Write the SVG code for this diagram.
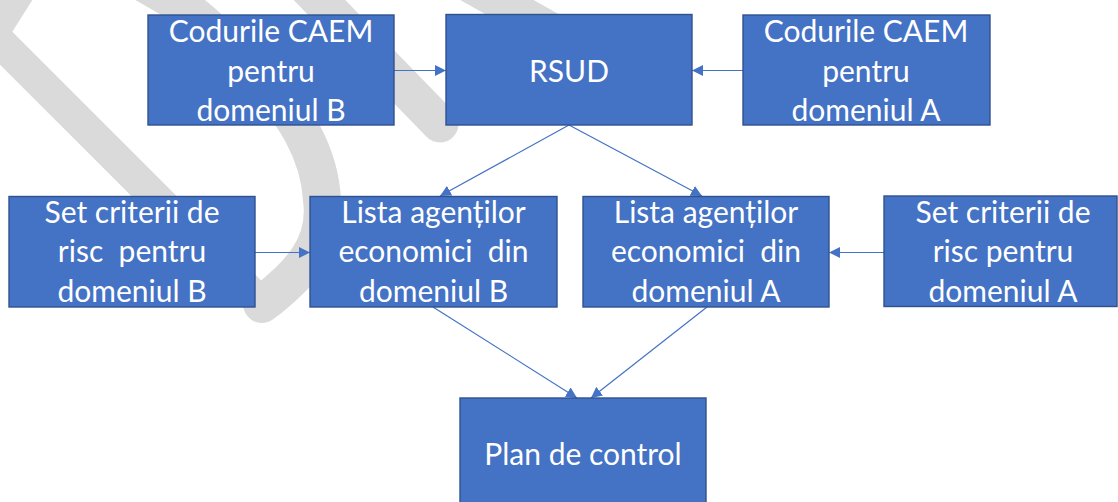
<svg xmlns="http://www.w3.org/2000/svg" width="1118" height="502" viewBox="0 0 1118 502">
  <defs>
    <style>
      .wm { fill: none; stroke: #dadada; stroke-linecap: round; stroke-linejoin: round; }
      .box { fill: #4472C4; stroke: #2F528F; stroke-width: 1.4; }
      .lbl { fill: #ffffff; font-family: Lato, "Open Sans", sans-serif; font-size: 30px; text-anchor: middle; white-space: pre; }
      .con { fill: none; stroke: #4472C4; stroke-width: 1.2; }
    </style>
    <marker id="arr" markerUnits="userSpaceOnUse" markerWidth="12" markerHeight="11" refX="11" refY="5.5" orient="auto">
      <path d="M0,0 L11,5.5 L0,11 Z" fill="#4472C4"/>
    </marker>
  </defs>
  <rect width="1118" height="502" fill="#ffffff"/>

  <g id="watermark">
    <path class="wm" stroke-width="32" d="M 50 -58 L -8 34 L 262 304"/>
    <path class="wm" stroke-width="38" d="M 262 304 C 300 275 328 245 322 200 C 320 160 300 110 240 60 C 220 38 200 18 170 -2 L 130 -25"/>
    <path class="wm" stroke-width="37" d="M 300 -20 L 440 124"/>
    <path class="wm" stroke-width="36" d="M 440 -32 L 600 58"/>
  </g>

  <g id="connectors">
    <line class="con" x1="394" y1="70.5" x2="446" y2="70.5" marker-end="url(#arr)"/>
    <line class="con" x1="743" y1="70.5" x2="692" y2="70.5" marker-end="url(#arr)"/>
    <line class="con" x1="569" y1="125" x2="440" y2="196" marker-end="url(#arr)"/>
    <line class="con" x1="569" y1="125" x2="702" y2="196" marker-end="url(#arr)"/>
    <line class="con" x1="255" y1="252.5" x2="310" y2="252.5" marker-end="url(#arr)"/>
    <line class="con" x1="884" y1="252.5" x2="829" y2="252.5" marker-end="url(#arr)"/>
    <line class="con" x1="433" y1="307" x2="577" y2="398" marker-end="url(#arr)"/>
    <line class="con" x1="707" y1="307" x2="591" y2="398" marker-end="url(#arr)"/>
  </g>

  <g id="caem-b">
    <rect class="box" x="148" y="15" width="246" height="110"/>
    <text class="lbl" x="271" y="42">Codurile CAEM</text>
    <text class="lbl" x="271" y="81.5">pentru</text>
    <text class="lbl" x="271" y="121">domeniul B</text>
  </g>
  <g id="rsud">
    <rect class="box" x="446" y="14.5" width="246" height="110.5"/>
    <text class="lbl" x="569" y="81.5">RSUD</text>
  </g>
  <g id="caem-a">
    <rect class="box" x="743" y="15" width="247" height="110"/>
    <text class="lbl" x="866" y="42">Codurile CAEM</text>
    <text class="lbl" x="866" y="81.5">pentru</text>
    <text class="lbl" x="866" y="121">domeniul A</text>
  </g>
  <g id="risc-b">
    <rect class="box" x="9" y="196.5" width="246" height="110.5"/>
    <text class="lbl" x="132" y="222.5">Set criterii de</text>
    <text class="lbl" x="132" y="262">risc  pentru</text>
    <text class="lbl" x="132" y="301.5">domeniul B</text>
  </g>
  <g id="lista-b">
    <rect class="box" x="310" y="196.5" width="247" height="110.5"/>
    <text class="lbl" x="433.5" y="222.5">Lista agenților</text>
    <text class="lbl" x="433.5" y="262">economici  din</text>
    <text class="lbl" x="433.5" y="301.5">domeniul B</text>
  </g>
  <g id="lista-a">
    <rect class="box" x="583" y="196.5" width="246" height="110.5"/>
    <text class="lbl" x="706" y="222.5">Lista agenților</text>
    <text class="lbl" x="706" y="262">economici  din</text>
    <text class="lbl" x="706" y="301.5">domeniul A</text>
  </g>
  <g id="risc-a">
    <rect class="box" x="884" y="196" width="233" height="110.5"/>
    <text class="lbl" x="1003" y="222.5">Set criterii de</text>
    <text class="lbl" x="1003" y="262">risc pentru</text>
    <text class="lbl" x="1003" y="301.5">domeniul A</text>
  </g>
  <g id="plan">
    <rect class="box" x="460" y="398" width="246" height="112"/>
    <text class="lbl" x="583" y="465">Plan de control</text>
  </g>
</svg>
